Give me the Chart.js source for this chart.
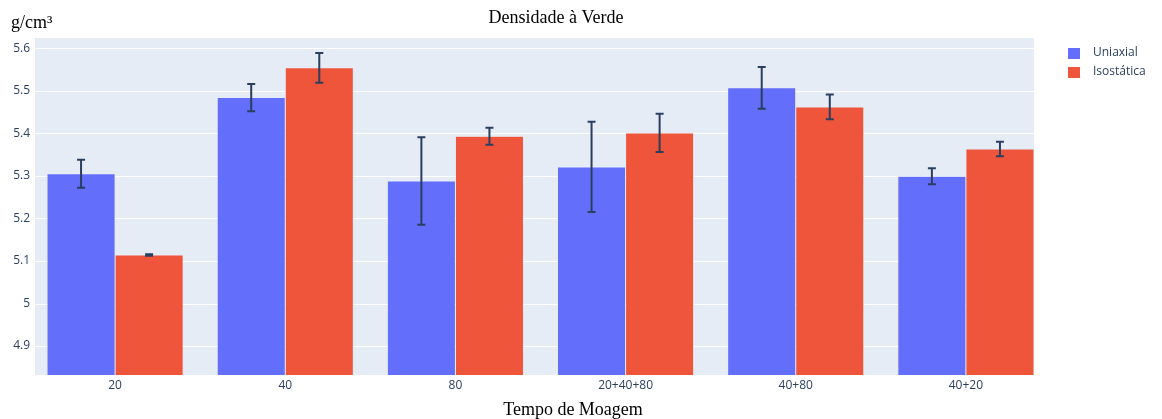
<!DOCTYPE html>
<html>
<head>
<meta charset="utf-8">
<script src="https://cdn.jsdelivr.net/npm/chart.js@4"></script>
<style>
  html, body { margin: 0; padding: 0; background: #fff; }
  #wrap { width: 1162px; height: 419px; position: relative; }
</style>
</head>
<body>
<div id="wrap"><canvas id="chart" width="1162" height="419"></canvas></div>
<script>
const categories = ["20", "40", "80", "20+40+80", "40+80", "40+20"];
const uniaxial = [5.305, 5.484, 5.288, 5.321, 5.507, 5.299];
const uniaxialErr = [0.033, 0.032, 0.103, 0.106, 0.049, 0.019];
const isostatica = [5.114, 5.554, 5.393, 5.401, 5.462, 5.363];
const isostaticaErr = [0.002, 0.035, 0.020, 0.045, 0.029, 0.017];
const yTicks = [4.9, 5, 5.1, 5.2, 5.3, 5.4, 5.5, 5.6];

const BLUE = "#636efa";
const RED = "#EF553B";
const INK = "#2a3f5f";
// plotly's x range is a little narrower than the category band on each side
const PLOT_LEFT = 35, PLOT_RIGHT = 1034;

// plot background, grid, error bars, titles, legend
const plotlyLook = {
  id: "plotlyLook",
  beforeDraw(chart) {
    const { ctx, chartArea: a } = chart;
    const y = chart.scales.y;
    ctx.save();
    ctx.fillStyle = "#E5ECF6";
    ctx.fillRect(PLOT_LEFT, a.top, PLOT_RIGHT - PLOT_LEFT, a.bottom - a.top);
    ctx.strokeStyle = "#ffffff";
    ctx.lineWidth = 1;
    yTicks.forEach(v => {
      const py = Math.round(y.getPixelForValue(v)) + 0.5;
      ctx.beginPath();
      ctx.moveTo(PLOT_LEFT, py);
      ctx.lineTo(PLOT_RIGHT, py);
      ctx.stroke();
    });
    ctx.restore();
  },
  afterDatasetsDraw(chart) {
    const { ctx } = chart;
    const y = chart.scales.y;
    const errs = [uniaxialErr, isostaticaErr];
    ctx.save();
    ctx.strokeStyle = INK;
    ctx.lineWidth = 2;
    chart.data.datasets.forEach((ds, di) => {
      const meta = chart.getDatasetMeta(di);
      meta.data.forEach((bar, i) => {
        const v = ds.data[i], e = errs[di][i];
        const x = bar.x;
        const yt = y.getPixelForValue(v + e), yb = y.getPixelForValue(v - e);
        ctx.beginPath();
        ctx.moveTo(x, yt); ctx.lineTo(x, yb);
        ctx.moveTo(x - 4, yt); ctx.lineTo(x + 4, yt);
        ctx.moveTo(x - 4, yb); ctx.lineTo(x + 4, yb);
        ctx.stroke();
      });
    });
    ctx.restore();
  },
  afterDraw(chart) {
    const { ctx } = chart;
    ctx.save();
    ctx.fillStyle = "#000";
    ctx.font = '18px "Liberation Serif", "Times New Roman", serif';
    ctx.textBaseline = "alphabetic";
    ctx.textAlign = "center";
    ctx.fillText("Densidade à Verde", 556, 23);
    ctx.fillText("Tempo de Moagem", 573, 415);
    ctx.textAlign = "left";
    ctx.fillText("g/cm³", 11, 28);

    // legend
    ctx.textBaseline = "middle";
    ctx.font = '12px "Open Sans", sans-serif';
    chart.data.datasets.forEach((ds, i) => {
      const ty = 53 + i * 19;
      ctx.fillStyle = ds.backgroundColor;
      ctx.fillRect(1068, ty - 5, 12, 11);
      ctx.fillStyle = INK;
      ctx.fillText(ds.label, 1093, ty);
    });
    ctx.restore();
  }
};

new Chart(document.getElementById("chart"), {
  type: "bar",
  data: {
    labels: categories,
    datasets: [
      { label: "Uniaxial", data: uniaxial, backgroundColor: BLUE,
        borderColor: "rgba(229,236,246,0.8)", borderWidth: 0.5 },
      { label: "Isostática", data: isostatica, backgroundColor: RED,
        borderColor: "rgba(229,236,246,0.8)", borderWidth: 0.5 }
    ]
  },
  options: {
    responsive: false,
    animation: false,
    layout: { padding: { left: 0, top: 38, right: 111, bottom: 0 } },
    plugins: { legend: { display: false }, title: { display: false }, tooltip: { enabled: false } },
    datasets: { bar: { categoryPercentage: 0.8, barPercentage: 1 } },
    scales: {
      x: {
        grid: { display: false, drawTicks: false },
        border: { display: false },
        ticks: { color: INK, font: { family: "Open Sans", size: 12 }, padding: 3, maxRotation: 0 },
        afterFit(s) { s.height = 44; }
      },
      y: {
        min: 4.832,
        max: 5.624,
        grid: { display: false, drawTicks: false },
        border: { display: false },
        afterBuildTicks(s) { s.ticks = yTicks.map(v => ({ value: v })); },
        ticks: {
          color: INK, font: { family: "Open Sans", size: 12 }, padding: 0,
          callback: v => String(Math.round(v * 10) / 10)
        },
        afterFit(s) { s.width = 30; }
      }
    }
  },
  plugins: [plotlyLook]
});
</script>
</body>
</html>
